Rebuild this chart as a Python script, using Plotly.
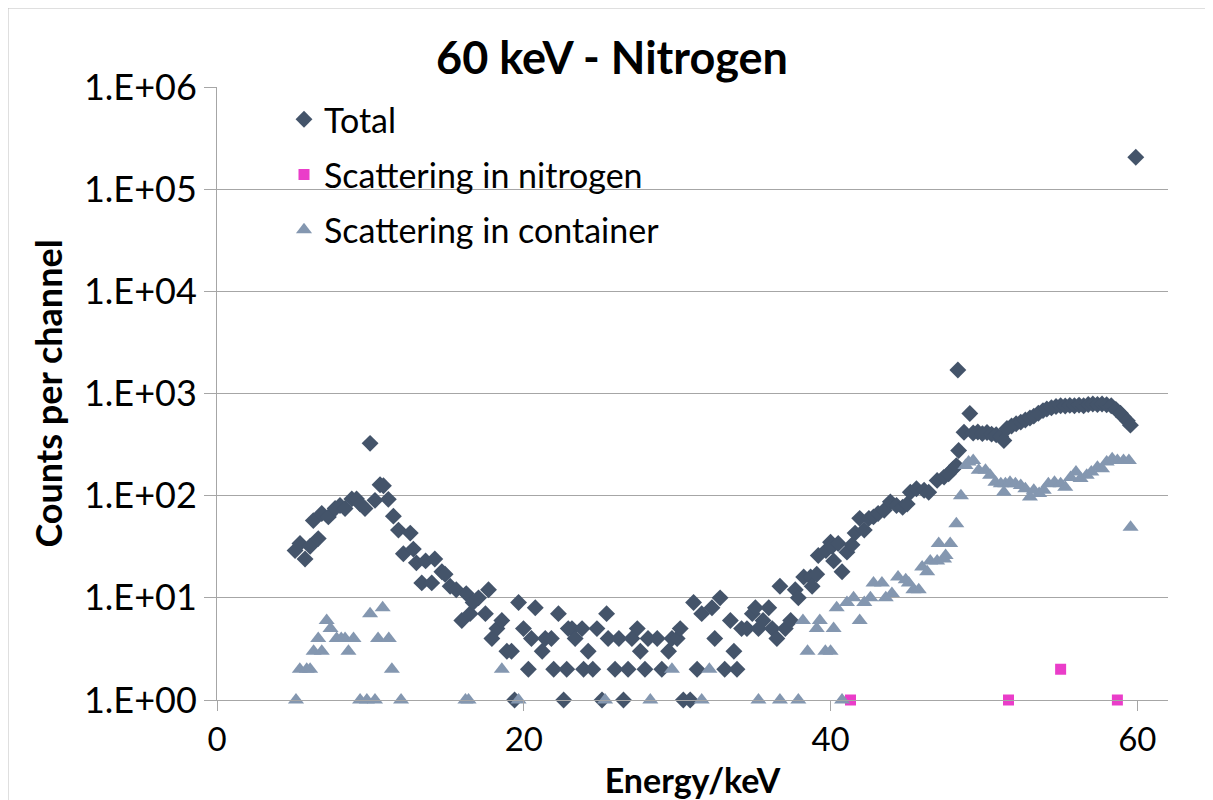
import plotly.graph_objects as go

# ---- data ----
energy_total = [5.09, 5.41, 5.74, 6.07, 6.28, 6.6, 6.83, 7.26, 7.7, 8.02, 8.35, 8.79, 9.1, 9.33, 9.65,
                9.98, 10.3, 10.63, 10.85, 11.17, 11.5, 11.83, 12.15, 12.6, 12.8, 13.0, 13.35, 13.6, 14.0,
                14.2, 14.66, 14.87, 15.2, 15.6, 15.96, 16.25, 16.5, 16.7, 17.05, 17.5, 17.7, 17.92, 18.25,
                18.57, 18.9, 19.2, 19.4, 19.66, 19.98, 20.3, 20.5, 20.75, 21.2, 21.4, 21.8, 21.95, 22.26,
                22.6, 22.8, 22.9, 23.14, 23.35, 23.8, 23.9, 24.2, 24.5, 24.77, 25.1, 25.4, 25.5, 25.95,
                26.2, 26.5, 26.8, 27.05, 27.4, 27.6, 27.9, 28.1, 28.7, 29.0, 29.44, 29.66, 30.0, 30.2,
                30.4, 30.85, 31.07, 31.3, 31.6, 32.27, 32.45, 32.8, 33.1, 33.47, 33.7, 33.9, 34.2, 34.55,
                34.9, 35.1, 35.3, 35.6, 35.97, 36.2, 36.5, 36.7, 37.05, 37.4, 37.7, 37.9, 38.25, 38.7,
                38.8, 39.1, 39.2, 39.7, 40.0, 40.1, 40.2, 40.5, 40.75, 41.07, 41.4, 41.6, 41.9, 42.2,
                42.5, 42.8, 43.1, 43.5, 43.9, 44.3, 44.7, 45.0, 45.2, 45.6, 46.1, 46.4, 46.95, 47.4,
                47.7, 48.0, 48.2, 48.3, 48.35, 48.7, 49.08, 49.3, 49.6, 49.9, 50.2, 50.5, 50.8, 51.1,
                51.3, 51.5, 51.8, 52.1, 52.4, 52.7, 53.0, 53.25, 53.55, 53.85, 54.1, 54.4, 54.7, 55.0,
                55.3, 55.6, 55.9, 56.2, 56.5, 56.8, 57.1, 57.4, 57.7, 58.0, 58.3, 58.6, 58.9, 59.1,
                59.35, 59.55, 59.9]
counts_total = [29, 34, 24, 32, 57, 38, 67, 62, 75, 80, 75, 93, 93, 83, 75,
                325, 90, 128, 125, 92, 63, 46, 27, 43, 30, 22, 14, 23, 14,
                24, 18, 17, 13, 12, 6, 11, 7, 9, 10, 7, 12, 4, 5,
                6, 3, 3, 1, 9, 5, 2, 4, 8, 3, 4, 4, 2, 7,
                1, 2, 5, 5, 4, 5, 2, 3, 2, 5, 1, 7, 4, 2,
                4, 1, 2, 4, 5, 3, 2, 4, 4, 2, 3, 4, 4, 5,
                1, 1, 9, 2, 7, 8, 4, 10, 2, 6, 3, 2, 5, 5,
                7, 8, 5, 6, 8, 5, 4, 13, 5, 6, 12, 10, 16, 16,
                13, 17, 26, 29, 35, 32, 23, 34, 18, 28, 33, 43, 60, 46,
                60, 62, 67, 72, 87, 80, 77, 83, 108, 117, 113, 108, 141, 152,
                164, 183, 197, 1700, 277, 417, 638, 410, 420, 405, 415, 400, 395, 380,
                347, 455, 480, 505, 525, 550, 575, 600, 640, 680, 705, 725, 745, 760,
                755, 765, 760, 770, 760, 780, 790, 780, 790, 775, 760, 700, 640, 590,
                540, 490, 205000]

energy_nitrogen = [41.3, 51.6, 55.0, 58.7]
counts_nitrogen = [1, 1, 2, 1]

energy_container = [5.15, 5.4, 5.85, 6.07, 6.3, 6.6, 6.83, 7.15, 7.4, 7.8, 8.1, 8.35, 8.57, 8.9,
                    9.33, 9.77, 9.98, 10.3, 10.5, 10.8, 11.2, 11.4, 12.0, 16.2, 16.4, 18.57, 19.66,
                    25.3, 28.25, 29.66, 31.6, 32.1, 35.3, 36.7, 37.9, 38.2, 38.5, 39.1, 39.3, 39.66,
                    40.0, 40.2, 40.4, 40.75, 41.07, 41.5, 41.9, 42.2, 42.6, 42.8, 43.35, 43.6, 44.0,
                    44.4, 44.9, 45.1, 45.4, 45.75, 45.97, 46.3, 46.5, 46.95, 47.05, 47.4, 47.5, 47.8,
                    48.2, 48.5, 48.8, 49.0, 49.3, 49.66, 50.1, 50.4, 50.75, 51.1, 51.3, 51.4, 51.7,
                    52.05, 52.4, 52.7, 53.0, 53.25, 53.6, 53.9, 54.2, 54.6, 55.0, 55.3, 55.65, 56.0,
                    56.3, 56.7, 57.0, 57.4, 57.7, 58.0, 58.36, 58.7, 59.1, 59.45, 59.56]
counts_container = [1, 2, 2, 2, 3, 4, 3, 6, 5, 4, 4, 4, 3, 4,
                    1, 1, 7, 1, 4, 8, 4, 2, 1, 1, 1, 2, 1,
                    1, 1, 2, 1, 2, 1, 1, 1, 6, 3, 5, 6, 3,
                    3, 5, 8, 1, 9, 10, 6, 9, 10, 14, 14, 10, 11,
                    16, 15, 14, 12, 12, 20, 18, 23, 23, 34, 24, 26, 34,
                    53, 100, 197, 213, 221, 177, 177, 158, 135, 131, 108, 131, 135,
                    131, 126, 117, 97, 113, 105, 113, 131, 135, 131, 121, 151, 170,
                    147, 158, 170, 190, 183, 213, 230, 221, 221, 221, 49]

y_tickvals = [1, 10, 100, 1000, 10000, 100000, 1000000]
y_ticktext = ["1.E+00", "1.E+01", "1.E+02", "1.E+03", "1.E+04", "1.E+05", "1.E+06"]
x_tickvals = [0, 20, 40, 60]

FONT = "Lato"
C_TOTAL = "#44546A"
C_NITRO = "#EA3DC9"
C_CONT = "#8497B0"

W, H = 1205, 792
L, R, T, B = 209, 45, 79, 100
PW = W - L - R
PH = H - T - B

fig = go.Figure()
fig.add_trace(go.Scatter(x=energy_total, y=counts_total, mode="markers", name="Total",
                         legendgroup="a",
                         marker=dict(symbol="diamond", size=13, color=C_TOTAL), cliponaxis=False))
fig.add_trace(go.Scatter(x=energy_nitrogen, y=counts_nitrogen, mode="markers",
                         name="Scattering in nitrogen", legendgroup="b",
                         marker=dict(symbol="square", size=11, color=C_NITRO), cliponaxis=False))
fig.add_trace(go.Scatter(x=energy_container, y=counts_container, mode="markers",
                         name="Scattering in container", legendgroup="c",
                         marker=dict(symbol="triangle-up", size=14, color=C_CONT), cliponaxis=False))

fig.update_layout(
    width=W, height=H,
    margin=dict(l=L, r=R, t=T, b=B),
    paper_bgcolor="white", plot_bgcolor="white",
    font=dict(family=FONT, color="black"),
    title=dict(text="<b>60 keV - Nitrogen</b>", x=604 / W, xanchor="center",
               y=1 - 50 / H, yanchor="middle", font=dict(size=45, family=FONT, color="black")),
    legend=dict(x=(284 - 217) / PW, y=0.994, xanchor="left", yanchor="top", bgcolor="rgba(0,0,0,0)",
                font=dict(size=34, family=FONT, color="black"), tracegroupgap=8,
                itemsizing="trace"),
    showlegend=True,
)
fig.update_xaxes(range=[0, 62], tickvals=x_tickvals, showgrid=False, zeroline=False,
                 showline=True, linecolor="#A6A6A6", linewidth=1, automargin=False,
                 ticks="outside", ticklen=10, tickcolor="#A6A6A6",
                 tickfont=dict(size=33, family=FONT, color="black"),
                 title=dict(text="<b>Energy/keV</b>", font=dict(size=34, family=FONT, color="black"),
                            standoff=12))
fig.update_yaxes(type="log", range=[0, 6], tickvals=y_tickvals, ticktext=y_ticktext,
                 showgrid=True, gridcolor="#A6A6A6", gridwidth=1, zeroline=False,
                 showline=True, linecolor="#A6A6A6", linewidth=1, automargin=False,
                 ticks="outside", ticklen=12, tickcolor="#A6A6A6",
                 tickfont=dict(size=36, family=FONT, color="black"),
                 title=dict(text="<b>Counts per channel</b>", font=dict(size=36, family=FONT, color="black"),
                            standoff=10))

# outer chart border
fig.add_shape(type="rect", xref="paper", yref="paper",
              x0=(0 - L) / PW, x1=(1199 - L) / PW, y0=(PH + T - H - 5) / PH, y1=(PH + T) / PH,
              line=dict(color="#BFBFBF", width=1), fillcolor="rgba(0,0,0,0)", layer="below")

fig.write_html("out.html")
